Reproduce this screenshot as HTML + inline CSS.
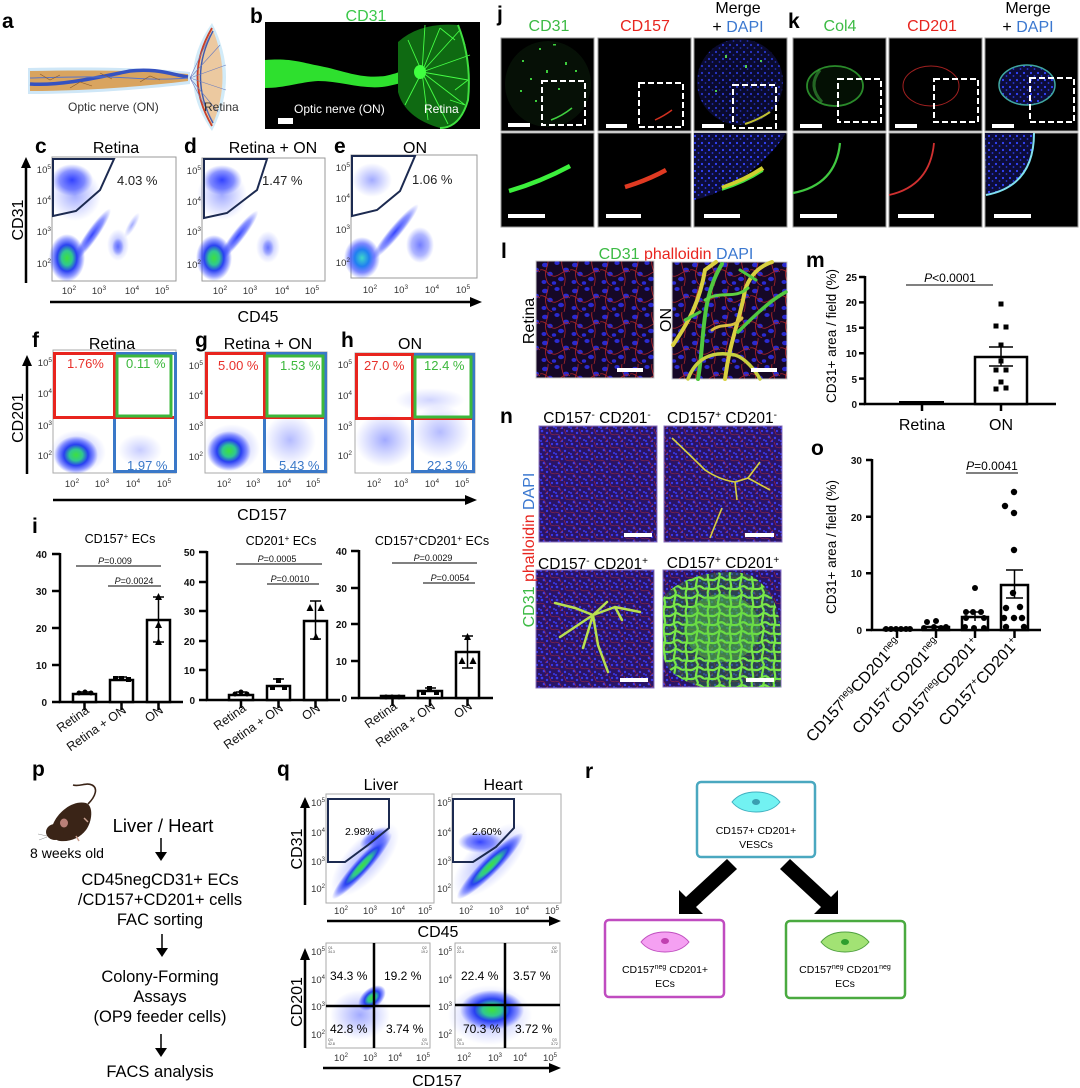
<!DOCTYPE html>
<html><head><meta charset="utf-8">
<style>
html,body{margin:0;padding:0;background:#fff;}
svg{display:block;font-family:"Liberation Sans",Arial,sans-serif;}
.lb{font-weight:bold;font-size:21px;fill:#000;}
.tk{font-size:9.5px;fill:#333;}
.bt{font-size:10px;font-weight:bold;fill:#111;}
</style></head><body>
<svg width="1080" height="1088" viewBox="0 0 1080 1088" xmlns="http://www.w3.org/2000/svg">
<defs>
<radialGradient id="gb"><stop offset="0" stop-color="#1f30ff" stop-opacity=".9"/><stop offset=".6" stop-color="#3040ff" stop-opacity=".55"/><stop offset="1" stop-color="#4455ff" stop-opacity="0"/></radialGradient>
<radialGradient id="gc"><stop offset="0" stop-color="#3ee03e"/><stop offset=".3" stop-color="#30c890"/><stop offset=".55" stop-color="#1f38f0" stop-opacity=".95"/><stop offset=".8" stop-color="#2a3cff" stop-opacity=".5"/><stop offset="1" stop-color="#3344ff" stop-opacity="0"/></radialGradient>
<radialGradient id="gcy"><stop offset="0" stop-color="#40d8c8"/><stop offset=".4" stop-color="#2080f0"/><stop offset=".7" stop-color="#2a3cff" stop-opacity=".6"/><stop offset="1" stop-color="#3344ff" stop-opacity="0"/></radialGradient>
<radialGradient id="gs"><stop offset="0" stop-color="#4455ff" stop-opacity=".5"/><stop offset="1" stop-color="#5566ff" stop-opacity="0"/></radialGradient>
<pattern id="pl" width="30" height="26" patternUnits="userSpaceOnUse">
<rect width="30" height="26" fill="#160826"/>
<g fill="#2a2ad0">
<ellipse cx="5" cy="5" rx="3" ry="2.3"/><ellipse cx="17" cy="3" rx="2.6" ry="2"/><ellipse cx="26" cy="10" rx="3" ry="2.4"/><ellipse cx="10" cy="14" rx="2.8" ry="2.2"/><ellipse cx="21" cy="19" rx="3" ry="2.2"/><ellipse cx="4" cy="22" rx="2.5" ry="2"/><ellipse cx="14" cy="23" rx="2.2" ry="1.8"/>
</g>
<path d="M0,10 C6,8 10,18 16,16 S26,8 30,12 M8,0 C9,6 4,10 6,18 S10,24 12,26 M22,0 C20,8 28,14 24,26" stroke="#b02428" stroke-width=".8" fill="none"/>
</pattern>
<pattern id="pn" width="15" height="13" patternUnits="userSpaceOnUse">
<rect width="15" height="13" fill="#2a1466"/>
<g fill="#3a3aee">
<circle cx="2" cy="2" r="1.3"/><circle cx="7" cy="4" r="1.2"/><circle cx="12" cy="2" r="1.1"/><circle cx="4" cy="8" r="1.3"/><circle cx="10" cy="9" r="1.2"/><circle cx="14" cy="11" r="1"/><circle cx="1" cy="12" r="1"/><circle cx="7" cy="12" r="1.1"/>
</g>
<path d="M0,5 L4,6 L6,10 M9,0 L11,5 L15,6 M5,13 L8,10" stroke="#a8283c" stroke-width=".6" fill="none"/>
</pattern>
<pattern id="pd" width="7" height="7" patternUnits="userSpaceOnUse">
<rect width="7" height="7" fill="#0c0c3a"/>
<circle cx="2" cy="3" r="1.1" fill="#3344ff"/>
<circle cx="5.5" cy="6" r=".9" fill="#2a3ae0"/>
</pattern>
<pattern id="mesh" width="22" height="18" patternUnits="userSpaceOnUse">
<rect width="22" height="18" fill="#2f7a3a" fill-opacity=".45"/>
<path d="M0,4 C5,2 8,6 12,3 S18,1 22,4 M0,13 C4,11 9,15 13,12 S19,10 22,13 M4,0 C3,4 6,8 5,12 S3,16 4,18 M15,0 C16,5 13,8 14,12 S17,16 15,18" stroke="#78e848" stroke-width="2.2" fill="none"/>
</pattern>
</defs>

<!-- ===== a ===== -->
<text class="lb" x="2" y="28">a</text>
<path d="M28,68 C80,67 140,67 190,72 L190,84 C140,90 80,94 28,94 Z" fill="#cfe7f7"/>
<path d="M30,71 C80,70 140,70 188,74 L188,81 C140,87 80,91 30,91 Z" fill="#d9a45f"/>
<path d="M30,84 C60,86 95,78 130,71 C155,68 170,74 188,77" stroke="#3552c0" stroke-width="3.5" fill="none"/>
<path d="M30,78 C70,77 100,76 130,78 C160,80 175,79 188,78" stroke="#5874c8" stroke-width="1" fill="none"/>
<path d="M40,74 L50,80 L60,75 M70,88 L80,82 L92,86 M100,73 L112,79 M140,82 L150,76 L160,80" stroke="#8a5a2a" stroke-width=".6" fill="none"/>
<path d="M212,23 Q174,77 212,131 Q240,77 212,23 Z" fill="#d2ebf8"/>
<path d="M212,28 Q182,77 212,126 Q233,77 212,28 Z" fill="#ecc9a0"/>
<path d="M212,28 Q183,77 212,126" stroke="#c8402a" stroke-width="1.8" fill="none"/>
<path d="M213,31 Q188,77 213,123" stroke="#3e5cb0" stroke-width="1.4" fill="none"/>
<path d="M190,78 L220,45 M190,78 L226,65 M190,78 L226,90 M190,78 L218,112 M190,78 L210,35 M190,78 L212,120" stroke="#6a7cc0" stroke-width=".6" fill="none"/>
<text x="68" y="111" font-size="12" fill="#333">Optic nerve (ON)</text>
<text x="204" y="111" font-size="12" fill="#333">Retina</text>

<!-- ===== b ===== -->
<text class="lb" x="250" y="23">b</text>
<text x="366" y="21" font-size="16" fill="#3cc84a" text-anchor="middle">CD31</text>
<rect x="265" y="22" width="215" height="107" fill="#000"/>
<path d="M265,60 C290,58 300,62 320,66 C345,71 360,79 385,76 C400,73 410,67 422,66 L424,79 C410,79 398,85 382,87 C360,89 340,81 318,81 C300,82 285,88 265,88 Z" fill="#2ee02e"/>
<path d="M398,42 Q420,22 458,25 Q472,60 468,100 Q460,128 440,128 Q405,118 398,92 Z" fill="#0f6a12"/>
<path d="M422,72 L440,28 M422,72 L460,30 M422,72 L470,55 M422,72 L468,80 M422,72 L465,105 M422,72 L448,124 M422,72 L428,120 M422,72 L405,105 M422,72 L408,40 M422,72 L425,25 M440,28 L455,40 M460,30 L465,45 M468,80 L455,90 M465,105 L450,100" stroke="#45ff45" stroke-width=".9" fill="none"/>
<path d="M458,25 Q472,60 468,100 Q460,128 440,128" stroke="#40e040" stroke-width="2" fill="none"/>
<ellipse cx="420" cy="72" rx="6" ry="7" fill="#40ff40"/>
<text x="294" y="113" font-size="12" fill="#fff">Optic nerve (ON)</text>
<text x="424" y="113" font-size="12" fill="#fff">Retina</text>
<rect x="278" y="118" width="15" height="6" fill="#fff"/>

<!-- ===== c d e ===== -->
<text class="lb" x="35" y="153">c</text>
<text class="lb" x="184" y="153">d</text>
<text class="lb" x="334" y="153">e</text>
<text x="116" y="153" font-size="16" text-anchor="middle">Retina</text>
<text x="273" y="153" font-size="16" text-anchor="middle">Retina + ON</text>
<text x="415" y="153" font-size="16" text-anchor="middle">ON</text>

<rect x="52" y="157" width="124" height="124" fill="#fff" stroke="#999"/>
<ellipse cx="75" cy="195" rx="26" ry="26" fill="url(#gs)"/>
<ellipse cx="72" cy="180" rx="21" ry="16" fill="url(#gb)"/>
<ellipse cx="92" cy="235" rx="32" ry="6" transform="rotate(-55 92 235)" fill="url(#gb)"/>
<ellipse cx="67" cy="258" rx="18" ry="24" fill="url(#gc)"/>
<ellipse cx="118" cy="245" rx="11" ry="16" fill="url(#gs)"/>
<ellipse cx="118" cy="247" rx="6" ry="9" fill="url(#gb)" opacity=".6"/>
<ellipse cx="132" cy="225" rx="14" ry="4" transform="rotate(-60 132 225)" fill="url(#gs)"/>
<polygon points="53,159 114,159 100,190 76,211 53,216" fill="none" stroke="#1c2a50" stroke-width="2"/>
<text x="117" y="185" font-size="13" fill="#222">4.03 %</text>

<rect x="202" y="158" width="123" height="123" fill="#fff" stroke="#999"/>
<ellipse cx="222" cy="195" rx="25" ry="25" fill="url(#gs)"/>
<ellipse cx="222" cy="180" rx="20" ry="15" fill="url(#gb)"/>
<ellipse cx="238" cy="236" rx="32" ry="6" transform="rotate(-52 238 236)" fill="url(#gb)"/>
<ellipse cx="214" cy="258" rx="18" ry="23" fill="url(#gc)"/>
<ellipse cx="268" cy="247" rx="12" ry="16" fill="url(#gs)"/>
<ellipse cx="268" cy="248" rx="6" ry="9" fill="url(#gb)" opacity=".5"/>
<polygon points="204,159 267,159 257,190 227,213 204,218" fill="none" stroke="#1c2a50" stroke-width="2"/>
<text x="262" y="185" font-size="13" fill="#222">1.47 %</text>

<rect x="351" y="155" width="126" height="123" fill="#fff" stroke="#999"/>
<ellipse cx="372" cy="180" rx="20" ry="17" fill="url(#gs)"/>
<ellipse cx="395" cy="232" rx="36" ry="6" transform="rotate(-50 395 232)" fill="url(#gb)"/>
<ellipse cx="362" cy="258" rx="18" ry="21" fill="url(#gcy)"/>
<ellipse cx="420" cy="245" rx="14" ry="18" fill="url(#gb)" opacity=".7"/>
<polygon points="352,156 415,156 400,191 377,210 352,216" fill="none" stroke="#1c2a50" stroke-width="2"/>
<text x="412" y="184" font-size="13" fill="#222">1.06 %</text>

<g class="tk" text-anchor="end">
<text x="51" y="173">10<tspan dy="-4" font-size="6.5">5</tspan></text>
<text x="51" y="204">10<tspan dy="-4" font-size="6.5">4</tspan></text>
<text x="51" y="235">10<tspan dy="-4" font-size="6.5">3</tspan></text>
<text x="51" y="267">10<tspan dy="-4" font-size="6.5">2</tspan></text>
<text x="201" y="174">10<tspan dy="-4" font-size="6.5">5</tspan></text>
<text x="201" y="205">10<tspan dy="-4" font-size="6.5">4</tspan></text>
<text x="201" y="235">10<tspan dy="-4" font-size="6.5">3</tspan></text>
<text x="201" y="268">10<tspan dy="-4" font-size="6.5">2</tspan></text>
<text x="350" y="171">10<tspan dy="-4" font-size="6.5">5</tspan></text>
<text x="350" y="202">10<tspan dy="-4" font-size="6.5">4</tspan></text>
<text x="350" y="233">10<tspan dy="-4" font-size="6.5">3</tspan></text>
<text x="350" y="266">10<tspan dy="-4" font-size="6.5">2</tspan></text>
</g>
<g class="tk" text-anchor="middle">
<text x="69" y="294">10<tspan dy="-4" font-size="6.5">2</tspan></text>
<text x="99" y="294">10<tspan dy="-4" font-size="6.5">3</tspan></text>
<text x="132" y="294">10<tspan dy="-4" font-size="6.5">4</tspan></text>
<text x="162" y="294">10<tspan dy="-4" font-size="6.5">5</tspan></text>
<text x="220" y="294">10<tspan dy="-4" font-size="6.5">2</tspan></text>
<text x="250" y="294">10<tspan dy="-4" font-size="6.5">3</tspan></text>
<text x="282" y="294">10<tspan dy="-4" font-size="6.5">4</tspan></text>
<text x="312" y="294">10<tspan dy="-4" font-size="6.5">5</tspan></text>
<text x="370" y="293">10<tspan dy="-4" font-size="6.5">2</tspan></text>
<text x="401" y="293">10<tspan dy="-4" font-size="6.5">3</tspan></text>
<text x="432" y="293">10<tspan dy="-4" font-size="6.5">4</tspan></text>
<text x="463" y="293">10<tspan dy="-4" font-size="6.5">5</tspan></text>
</g>
<text transform="translate(23,220) rotate(-90)" text-anchor="middle" font-size="16">CD31</text>
<line x1="26" y1="283" x2="26" y2="166" stroke="#000" stroke-width="2.5"/>
<polygon points="21,168 31,168 26,157" fill="#000"/>
<line x1="50" y1="302" x2="472" y2="302" stroke="#000" stroke-width="2.5"/>
<polygon points="470,297 470,307 482,302" fill="#000"/>
<text x="258" y="322" font-size="16" text-anchor="middle">CD45</text>

<!-- ===== f g h ===== -->
<text class="lb" x="32" y="347">f</text>
<text class="lb" x="195" y="347">g</text>
<text class="lb" x="341" y="347">h</text>
<text x="112" y="349" font-size="16" text-anchor="middle">Retina</text>
<text x="268" y="349" font-size="16" text-anchor="middle">Retina + ON</text>
<text x="410" y="349" font-size="16" text-anchor="middle">ON</text>

<rect x="53" y="350" width="123" height="123" fill="#fff" stroke="#aaa"/>
<ellipse cx="140" cy="450" rx="22" ry="16" fill="url(#gs)" opacity=".6"/>
<ellipse cx="78" cy="452" rx="28" ry="22" fill="url(#gs)"/>
<ellipse cx="76" cy="455" rx="22" ry="19" fill="url(#gc)"/>
<rect x="54.5" y="353.5" width="121" height="64" fill="none" stroke="#e8241e" stroke-width="3"/>
<rect x="114.5" y="353.5" width="61" height="118" fill="none" stroke="#3a78c8" stroke-width="3"/>
<line x1="114.5" y1="352" x2="114.5" y2="419" stroke="#e8241e" stroke-width="3"/>
<rect x="117" y="356" width="54" height="60" fill="none" stroke="#3cb83c" stroke-width="3"/>
<text x="67" y="368" font-size="13" fill="#e8302a">1.76%</text>
<text x="126" y="368" font-size="13" fill="#3cb83c">0.11 %</text>
<text x="127" y="470" font-size="13" fill="#3a78c8">1.97 %</text>

<rect x="205" y="352" width="122" height="121" fill="#fff" stroke="#aaa"/>
<ellipse cx="290" cy="440" rx="26" ry="26" fill="url(#gs)" opacity=".8"/>
<ellipse cx="232" cy="448" rx="28" ry="24" fill="url(#gs)"/>
<ellipse cx="229" cy="451" rx="22" ry="20" fill="url(#gc)"/>
<rect x="206.5" y="353.5" width="119" height="64" fill="none" stroke="#e8241e" stroke-width="3"/>
<rect x="264.5" y="353.5" width="61" height="118" fill="none" stroke="#3a78c8" stroke-width="3"/>
<line x1="264.5" y1="352" x2="264.5" y2="419" stroke="#e8241e" stroke-width="3"/>
<rect x="267" y="356" width="56" height="60" fill="none" stroke="#3cb83c" stroke-width="3"/>
<text x="218" y="370" font-size="13" fill="#e8302a">5.00 %</text>
<text x="280" y="370" font-size="13" fill="#3cb83c">1.53 %</text>
<text x="279" y="470" font-size="13" fill="#3a78c8">5.43 %</text>

<rect x="355" y="353" width="120" height="120" fill="#fff" stroke="#aaa"/>
<ellipse cx="385" cy="440" rx="30" ry="27" fill="url(#gs)"/>
<ellipse cx="440" cy="432" rx="30" ry="27" fill="url(#gs)" opacity=".8"/>
<ellipse cx="430" cy="400" rx="35" ry="12" fill="url(#gs)" opacity=".5"/>
<rect x="356.5" y="354.5" width="117" height="64" fill="none" stroke="#e8241e" stroke-width="3"/>
<rect x="412.5" y="354.5" width="61" height="117" fill="none" stroke="#3a78c8" stroke-width="3"/>
<line x1="412.5" y1="353" x2="412.5" y2="420" stroke="#e8241e" stroke-width="3"/>
<rect x="415" y="357" width="56" height="60" fill="none" stroke="#3cb83c" stroke-width="3"/>
<text x="364" y="370" font-size="13" fill="#e8302a">27.0 %</text>
<text x="424" y="370" font-size="13" fill="#3cb83c">12.4 %</text>
<text x="427" y="470" font-size="13" fill="#3a78c8">22.3 %</text>

<g class="tk" text-anchor="end">
<text x="52" y="366">10<tspan dy="-4" font-size="6.5">5</tspan></text>
<text x="52" y="397">10<tspan dy="-4" font-size="6.5">4</tspan></text>
<text x="52" y="429">10<tspan dy="-4" font-size="6.5">3</tspan></text>
<text x="52" y="459">10<tspan dy="-4" font-size="6.5">2</tspan></text>
<text x="203" y="369">10<tspan dy="-4" font-size="6.5">5</tspan></text>
<text x="203" y="399">10<tspan dy="-4" font-size="6.5">4</tspan></text>
<text x="203" y="430">10<tspan dy="-4" font-size="6.5">3</tspan></text>
<text x="203" y="460">10<tspan dy="-4" font-size="6.5">2</tspan></text>
<text x="352" y="368">10<tspan dy="-4" font-size="6.5">5</tspan></text>
<text x="352" y="399">10<tspan dy="-4" font-size="6.5">4</tspan></text>
<text x="352" y="430">10<tspan dy="-4" font-size="6.5">3</tspan></text>
<text x="352" y="459">10<tspan dy="-4" font-size="6.5">2</tspan></text>
</g>
<g class="tk" text-anchor="middle">
<text x="72" y="487">10<tspan dy="-4" font-size="6.5">2</tspan></text>
<text x="102" y="487">10<tspan dy="-4" font-size="6.5">3</tspan></text>
<text x="133" y="487">10<tspan dy="-4" font-size="6.5">4</tspan></text>
<text x="164" y="487">10<tspan dy="-4" font-size="6.5">5</tspan></text>
<text x="224" y="487">10<tspan dy="-4" font-size="6.5">2</tspan></text>
<text x="253" y="487">10<tspan dy="-4" font-size="6.5">3</tspan></text>
<text x="284" y="487">10<tspan dy="-4" font-size="6.5">4</tspan></text>
<text x="313" y="487">10<tspan dy="-4" font-size="6.5">5</tspan></text>
<text x="374" y="487">10<tspan dy="-4" font-size="6.5">2</tspan></text>
<text x="401" y="487">10<tspan dy="-4" font-size="6.5">3</tspan></text>
<text x="432" y="487">10<tspan dy="-4" font-size="6.5">4</tspan></text>
<text x="462" y="487">10<tspan dy="-4" font-size="6.5">5</tspan></text>
</g>
<text transform="translate(23,418) rotate(-90)" text-anchor="middle" font-size="16">CD201</text>
<line x1="27" y1="474" x2="27" y2="364" stroke="#000" stroke-width="2.5"/>
<polygon points="22,366 32,366 27,355" fill="#000"/>
<line x1="53" y1="500" x2="467" y2="500" stroke="#000" stroke-width="2.5"/>
<polygon points="465,495 465,505 477,500" fill="#000"/>
<text x="262" y="520" font-size="16" text-anchor="middle">CD157</text>

<!-- ===== i ===== -->
<text class="lb" x="32" y="533">i</text>
<text x="120" y="543" font-size="12.5" text-anchor="middle">CD157<tspan dy="-4" font-size="8">+</tspan><tspan dy="4"> ECs</tspan></text>
<text x="281" y="545" font-size="12.5" text-anchor="middle">CD201<tspan dy="-4" font-size="8">+</tspan><tspan dy="4"> ECs</tspan></text>
<text x="432" y="545" font-size="12.5" text-anchor="middle">CD157<tspan dy="-4" font-size="8">+</tspan><tspan dy="4">CD201</tspan><tspan dy="-4" font-size="8">+</tspan><tspan dy="4"> ECs</tspan></text>

<g stroke="#000" stroke-width="2.5" fill="none">
<path d="M60,553 L60,702 L183,702"/>
<path d="M52,554 H60 M52,591 H60 M52,628 H60 M52,665 H60 M52,702 H60"/>
<rect x="73" y="694" width="23" height="8" fill="#fff"/>
<rect x="110" y="680" width="23" height="22" fill="#fff"/>
<rect x="147" y="620" width="23" height="82" fill="#fff"/>
<path d="M84.5,702 V710 M121.5,702 V710 M158.5,702 V710"/>
<path d="M158.5,597 V642 M153,597 H164 M153,642 H164 M116,677 H127 M79,692 H90" stroke-width="1.5"/>
<path d="M207,551 L207,700 L340,700"/>
<path d="M199,552 H207 M199,582 H207 M199,611 H207 M199,641 H207 M199,670 H207 M199,700 H207"/>
<rect x="229" y="695" width="24" height="5" fill="#fff"/>
<rect x="267" y="686" width="23" height="14" fill="#fff"/>
<rect x="304" y="621" width="23" height="79" fill="#fff"/>
<path d="M241,700 V708 M278.5,700 V708 M315.5,700 V708"/>
<path d="M315.5,601 V639 M310,601 H321 M310,639 H321 M273,679 H284 M236,692 H247" stroke-width="1.5"/>
<path d="M359,550 L359,698 L493,698"/>
<path d="M351,551 H359 M351,588 H359 M351,624 H359 M351,661 H359 M351,698 H359"/>
<rect x="381" y="696" width="23" height="2" fill="#fff"/>
<rect x="418" y="691" width="24" height="7" fill="#fff"/>
<rect x="456" y="652" width="23" height="46" fill="#fff"/>
<path d="M392.5,698 V706 M430,698 V706 M467.5,698 V706"/>
<path d="M467.5,636 V668 M462,636 H473 M462,668 H473 M425,688 H436" stroke-width="1.5"/>
</g>
<g fill="#000">
<circle cx="79" cy="693" r="2.5"/><circle cx="85" cy="692" r="2.5"/><circle cx="91" cy="693" r="2.5"/>
<rect x="113" y="676" width="5" height="5"/><rect x="119" y="676" width="5" height="5"/><rect x="126" y="677" width="5" height="5"/>
<polygon points="158.5,593 155,600 162,600"/><polygon points="158.5,621 155,628 162,628"/><polygon points="158.5,638 155,645 162,645"/>
<circle cx="235" cy="694" r="2.5"/><circle cx="241" cy="692" r="2.5"/><circle cx="247" cy="694" r="2.5"/>
<rect x="276" y="678" width="5" height="5"/><rect x="270" y="685" width="5" height="5"/><rect x="282" y="685" width="5" height="5"/>
<polygon points="310,604 306.5,611 313.5,611"/><polygon points="321,604 317.5,611 324.5,611"/><polygon points="316,633 312.5,640 319.5,640"/>
<circle cx="386" cy="697" r="2.5"/><circle cx="392" cy="697" r="2.5"/><circle cx="399" cy="697" r="2.5"/>
<rect x="427" y="686" width="5" height="5"/><rect x="421" y="690" width="5" height="5"/><rect x="434" y="690" width="5" height="5"/>
<polygon points="467.5,633 464,640 471,640"/><polygon points="462,657 458.5,664 465.5,664"/><polygon points="473,657 469.5,664 476.5,664"/>
</g>
<g class="bt" text-anchor="end">
<text x="47" y="558">40</text><text x="47" y="595">30</text><text x="47" y="632">20</text><text x="47" y="669">10</text><text x="47" y="706">0</text>
<text x="195" y="556">50</text><text x="195" y="586">40</text><text x="195" y="615">30</text><text x="195" y="645">20</text><text x="195" y="674">10</text><text x="195" y="704">0</text>
<text x="347" y="555">40</text><text x="347" y="592">30</text><text x="347" y="628">20</text><text x="347" y="665">10</text><text x="347" y="702">0</text>
</g>
<g stroke="#000" stroke-width="1">
<line x1="76" y1="566" x2="161" y2="566"/><line x1="108" y1="586" x2="161" y2="586"/>
<line x1="236" y1="564" x2="322" y2="564"/><line x1="267" y1="584" x2="319" y2="584"/>
<line x1="392" y1="563" x2="477" y2="563"/><line x1="423" y1="583" x2="475" y2="583"/>
</g>
<g font-size="9" text-anchor="middle" fill="#111">
<text x="115" y="564"><tspan font-style="italic">P</tspan>=0.009</text>
<text x="134" y="584"><tspan font-style="italic">P</tspan>=0.0024</text>
<text x="277" y="562"><tspan font-style="italic">P</tspan>=0.0005</text>
<text x="290" y="582"><tspan font-style="italic">P</tspan>=0.0010</text>
<text x="433" y="561"><tspan font-style="italic">P</tspan>=0.0029</text>
<text x="450" y="581"><tspan font-style="italic">P</tspan>=0.0054</text>
</g>
<g font-size="12.5" text-anchor="end" fill="#111">
<text transform="translate(90,712) rotate(-35)">Retina</text>
<text transform="translate(127,712) rotate(-35)">Retina + ON</text>
<text transform="translate(164,712) rotate(-35)">ON</text>
<text transform="translate(247,710) rotate(-35)">Retina</text>
<text transform="translate(284,710) rotate(-35)">Retina + ON</text>
<text transform="translate(321,710) rotate(-35)">ON</text>
<text transform="translate(398,708) rotate(-35)">Retina</text>
<text transform="translate(436,708) rotate(-35)">Retina + ON</text>
<text transform="translate(473,708) rotate(-35)">ON</text>
</g>

<!-- ===== j k ===== -->
<text class="lb" x="497" y="21">j</text>
<text class="lb" x="788" y="28">k</text>
<text x="549" y="31" font-size="16" fill="#3dbb45" text-anchor="middle">CD31</text>
<text x="645" y="31" font-size="16" fill="#e8251f" text-anchor="middle">CD157</text>
<text x="738" y="13" font-size="16" text-anchor="middle">Merge</text>
<text x="738" y="32" font-size="16" text-anchor="middle">+ <tspan fill="#3b78d0">DAPI</tspan></text>
<text x="840" y="31" font-size="16" fill="#3dbb45" text-anchor="middle">Col4</text>
<text x="932" y="31" font-size="16" fill="#e8251f" text-anchor="middle">CD201</text>
<text x="1028" y="13" font-size="16" text-anchor="middle">Merge</text>
<text x="1028" y="32" font-size="16" text-anchor="middle">+ <tspan fill="#3b78d0">DAPI</tspan></text>

<g stroke="#999" stroke-width="1">
<rect x="501" y="38" width="93" height="93" fill="#000"/>
<rect x="598" y="38" width="93" height="93" fill="#000"/>
<rect x="694" y="38" width="93" height="93" fill="#000"/>
<rect x="793" y="38" width="93" height="93" fill="#000"/>
<rect x="889" y="38" width="93" height="93" fill="#000"/>
<rect x="985" y="38" width="93" height="93" fill="#000"/>
<rect x="501" y="133" width="93" height="94" fill="#000"/>
<rect x="598" y="133" width="93" height="94" fill="#000"/>
<rect x="694" y="133" width="93" height="94" fill="#000"/>
<rect x="793" y="133" width="93" height="94" fill="#000"/>
<rect x="889" y="133" width="93" height="94" fill="#000"/>
<rect x="985" y="133" width="93" height="94" fill="#000"/>
</g>
<circle cx="548" cy="84" r="43" fill="#061006"/>
<g fill="#3ccc3c">
<rect x="539" y="48" width="2" height="2"/><rect x="553" y="44" width="3" height="1.5"/><rect x="522" y="60" width="2" height="2"/><rect x="565" y="62" width="2" height="3"/><rect x="530" y="78" width="2" height="2"/><rect x="575" y="70" width="2" height="2"/><rect x="546" y="70" width="2" height="3"/><rect x="520" y="90" width="2" height="2"/><rect x="558" y="88" width="2" height="2"/><rect x="535" y="100" width="2" height="2"/>
</g>
<circle cx="740" cy="82" r="43" fill="url(#pd)" opacity=".8"/>
<g fill="#50d050">
<rect x="725" y="55" width="2" height="3"/><rect x="745" y="65" width="2" height="3"/><rect x="715" y="90" width="2" height="2"/><rect x="760" y="60" width="2" height="2"/>
</g>
<path d="M551,120 Q562,116 572,108" stroke="#40d040" stroke-width="1.5" fill="none"/>
<path d="M655,120 Q664,116 672,110" stroke="#d03020" stroke-width="1.5" fill="none"/>
<path d="M745,124 Q758,120 770,112" stroke="#c0c030" stroke-width="2" fill="none"/>
<ellipse cx="835" cy="86" rx="28" ry="20" fill="#041004" stroke="#2a8a2a" stroke-width="1.8"/>
<path d="M820,70 Q807,86 822,102" stroke="#3aa03a" stroke-width="3" fill="none" opacity=".6"/>
<ellipse cx="931" cy="86" rx="28" ry="20" fill="none" stroke="#a02020" stroke-width="1"/>
<ellipse cx="1027" cy="85" rx="28" ry="20" fill="url(#pd)" stroke="#40a8a0" stroke-width="1.5"/>
<g fill="none" stroke="#fff" stroke-width="2" stroke-dasharray="6 3">
<rect x="542" y="81" width="43" height="44"/>
<rect x="639" y="83" width="44" height="44"/>
<rect x="733" y="85" width="43" height="43"/>
<rect x="838" y="79" width="43" height="43"/>
<rect x="934" y="79" width="44" height="43"/>
<rect x="1030" y="78" width="44" height="44"/>
</g>
<path d="M509,191 Q540,182 570,166" stroke="#3cf03c" stroke-width="4.5" fill="none"/>
<path d="M625,187 Q648,180 666,170" stroke="#e03a22" stroke-width="4.5" fill="none"/>
<path d="M694,133 L786,133 Q770,160 730,186 Q712,196 694,200 Z" fill="url(#pd)"/>
<path d="M722,188 Q745,180 763,168" stroke="#d0d030" stroke-width="4.5" fill="none"/>
<path d="M722,190 Q745,183 763,171" stroke="#40e040" stroke-width="1.5" fill="none"/>
<path d="M793,193 Q836,185 840,143" stroke="#40c840" stroke-width="2.2" fill="none"/>
<path d="M889,195 Q930,186 934,143" stroke="#d03030" stroke-width="1.8" fill="none"/>
<path d="M985,133 L1034,133 Q1034,186 986,195 Z" fill="url(#pd)"/>
<path d="M1034,133 Q1034,186 986,195" stroke="#80e0f0" stroke-width="2" fill="none"/>
<g fill="#fff">
<rect x="508" y="123" width="22" height="4"/><rect x="606" y="124" width="21" height="4"/><rect x="702" y="124" width="22" height="4"/><rect x="800" y="124" width="22" height="4"/><rect x="895" y="124" width="22" height="4"/><rect x="992" y="124" width="22" height="4"/>
<rect x="508" y="214" width="37" height="4"/><rect x="606" y="214" width="35" height="4"/><rect x="704" y="214" width="36" height="4"/><rect x="800" y="214" width="37" height="4"/><rect x="898" y="214" width="36" height="4"/><rect x="994" y="214" width="37" height="4"/>
</g>

<!-- ===== l ===== -->
<text class="lb" x="501" y="258">l</text>
<text x="676" y="259" font-size="16" text-anchor="middle"><tspan fill="#3dbb45">CD31</tspan> <tspan fill="#e8251f">phalloidin</tspan> <tspan fill="#3b78d0">DAPI</tspan></text>
<rect x="536" y="261" width="118" height="117" fill="url(#pl)" stroke="#ccc"/>
<rect x="672" y="262" width="115" height="117" fill="url(#pl)" stroke="#ccc"/>
<g fill="none" stroke-linecap="round">
<path d="M673,345 C690,320 700,300 705,270 L716,262" stroke="#d8d040" stroke-width="4"/>
<path d="M698,379 C705,340 700,300 722,264" stroke="#50c840" stroke-width="4"/>
<path d="M725,379 C730,340 740,320 745,290 C750,275 760,266 772,262" stroke="#d8d040" stroke-width="4"/>
<path d="M738,332 C750,320 770,300 786,292" stroke="#50c840" stroke-width="3.5"/>
<path d="M688,379 C695,360 710,350 735,355 C745,358 755,370 760,379" stroke="#c8d040" stroke-width="3.5"/>
<path d="M705,300 C720,290 735,300 748,288" stroke="#60d040" stroke-width="3"/>
<path d="M712,330 C722,322 732,330 742,318" stroke="#d8c040" stroke-width="3"/>
<path d="M685,320 L700,312 M740,270 L756,280" stroke="#50c840" stroke-width="3"/>
</g>
<rect x="617" y="368" width="26" height="4" fill="#fff"/>
<rect x="751" y="368" width="26" height="4" fill="#fff"/>
<text transform="translate(534,321) rotate(-90)" text-anchor="middle" font-size="16">Retina</text>
<text transform="translate(671,320) rotate(-90)" text-anchor="middle" font-size="16">ON</text>

<!-- ===== n ===== -->
<text class="lb" x="500" y="423">n</text>
<g font-size="15.5" text-anchor="middle">
<text x="597" y="423">CD157<tspan dy="-5" font-size="10">-</tspan><tspan dy="5"> CD201</tspan><tspan dy="-5" font-size="10">-</tspan></text>
<text x="722" y="423">CD157<tspan dy="-5" font-size="10">+</tspan><tspan dy="5"> CD201</tspan><tspan dy="-5" font-size="10">-</tspan></text>
<text x="593" y="569">CD157<tspan dy="-5" font-size="10">-</tspan><tspan dy="5"> CD201</tspan><tspan dy="-5" font-size="10">+</tspan></text>
<text x="723" y="568">CD157<tspan dy="-5" font-size="10">+</tspan><tspan dy="5"> CD201</tspan><tspan dy="-5" font-size="10">+</tspan></text>
</g>
<rect x="539" y="426" width="118" height="116" fill="url(#pn)" stroke="#8870c0"/>
<rect x="664" y="426" width="118" height="116" fill="url(#pn)" stroke="#8870c0"/>
<rect x="536" y="570" width="118" height="118" fill="url(#pn)" stroke="#8870c0"/>
<rect x="663" y="570" width="118" height="117" fill="url(#pn)" stroke="#8870c0"/>
<path d="M672,438 Q690,455 705,470 Q720,480 735,482 L748,478 L760,462 M735,482 L737,500 M748,478 L770,490 M722,508 Q715,525 710,538" stroke="#d8d040" stroke-width="1.6" fill="none"/>
<g stroke="#b8e050" stroke-width="2.5" fill="none" stroke-linecap="round">
<path d="M593,615 L575,608 L555,603 M593,615 L578,625 L560,637 M593,615 L598,645 L608,672 M593,615 L615,607 L640,612 M593,615 L607,602 M593,615 L583,648 M615,607 L622,620"/>
</g>
<path d="M663,598 C678,576 720,568 748,574 C768,584 781,605 781,640 L781,687 L702,687 C684,682 663,672 663,652 Z" fill="url(#mesh)"/>
<ellipse cx="722" cy="628" rx="38" ry="34" fill="#58d040" opacity=".45"/>
<g fill="#fff">
<rect x="624" y="533" width="28" height="4"/><rect x="745" y="533" width="29" height="4"/><rect x="620" y="678" width="28" height="4"/><rect x="746" y="678" width="28" height="4"/>
</g>
<text transform="translate(534,550) rotate(-90)" text-anchor="middle" font-size="16"><tspan fill="#3dbb45">CD31</tspan> <tspan fill="#e8251f">phalloidin</tspan> <tspan fill="#3b78d0">DAPI</tspan></text>

<!-- ===== m ===== -->
<text class="lb" x="806" y="267">m</text>
<text transform="translate(836,336) rotate(-90)" text-anchor="middle" font-size="13.5">CD31+ area / field (%)</text>
<g stroke="#000" stroke-width="2.5" fill="none">
<path d="M865,276 L865,404 L1056,404"/>
<path d="M859,277 H865 M859,302.4 H865 M859,327.8 H865 M859,353.2 H865 M859,378.6 H865 M859,404 H865"/>
<rect x="975" y="357" width="52" height="47" fill="#fff"/>
<path d="M922,404 V411 M1001,404 V411"/>
<path d="M1001,347 V366 M989,347 H1013 M989,366 H1013" stroke-width="1.5"/>
</g>
<g class="bt" font-size="11" text-anchor="end">
<text x="857" y="281">25</text><text x="857" y="306">20</text><text x="857" y="332">15</text><text x="857" y="357">10</text><text x="857" y="383">5</text><text x="857" y="408">0</text>
</g>
<g fill="#000">
<rect x="899" y="401" width="45" height="4"/>
<rect x="998.5" y="301.5" width="5" height="5"/><rect x="993.5" y="323.5" width="5" height="5"/><rect x="1003.5" y="324.5" width="5" height="5"/><rect x="998.5" y="342.5" width="5" height="5"/><rect x="998.5" y="358.5" width="5" height="5"/><rect x="993.5" y="367.5" width="5" height="5"/><rect x="1003.5" y="367.5" width="5" height="5"/><rect x="998.5" y="379.5" width="5" height="5"/><rect x="993.5" y="386.5" width="5" height="5"/><rect x="1003.5" y="385.5" width="5" height="5"/>
</g>
<line x1="906" y1="285" x2="993" y2="285" stroke="#000" stroke-width="1"/>
<text x="950" y="282" font-size="12" text-anchor="middle"><tspan font-style="italic">P</tspan>&lt;0.0001</text>
<text x="922" y="430" font-size="16" text-anchor="middle">Retina</text>
<text x="1001" y="430" font-size="16" text-anchor="middle">ON</text>

<!-- ===== o ===== -->
<text class="lb" x="811" y="455">o</text>
<text transform="translate(836,547) rotate(-90)" text-anchor="middle" font-size="13.5">CD31+ area / field (%)</text>
<g stroke="#000" stroke-width="2.5" fill="none">
<path d="M872,459 L872,630 L1041,630"/>
<path d="M866,460 H872 M866,516.7 H872 M866,573.3 H872 M866,630 H872"/>
<rect x="884" y="629" width="26" height="1" fill="#fff"/>
<rect x="923" y="627" width="26" height="3" fill="#fff"/>
<rect x="962" y="617" width="26" height="13" fill="#fff"/>
<rect x="1001" y="585" width="27" height="45" fill="#fff"/>
<path d="M897,630 V638 M936,630 V638 M975,630 V638 M1014.5,630 V638"/>
<path d="M1014.5,570 V598 M1006,570 H1023 M1006,598 H1023 M975,612 V621 M968,612 H982" stroke-width="1.5"/>
</g>
<g class="bt" font-size="11" text-anchor="end">
<text x="862" y="464">30</text><text x="862" y="521">20</text><text x="862" y="577">10</text><text x="862" y="634">0</text>
</g>
<g fill="#000">
<circle cx="886" cy="629" r="3"/><circle cx="891" cy="629" r="3"/><circle cx="896" cy="629" r="3"/><circle cx="901" cy="629" r="3"/><circle cx="906" cy="629" r="3"/><circle cx="910" cy="629" r="3"/>
<circle cx="927" cy="622" r="3"/><circle cx="936" cy="621" r="3"/><circle cx="934" cy="627" r="3"/><circle cx="924" cy="628" r="3"/><circle cx="941" cy="628" r="3"/><circle cx="946" cy="627" r="3"/>
<circle cx="975" cy="588" r="3"/><circle cx="966" cy="612" r="3"/><circle cx="973" cy="612" r="3"/><circle cx="981" cy="612" r="3"/><circle cx="966" cy="618" r="3"/><circle cx="984" cy="618" r="3"/><circle cx="965" cy="627" r="3"/><circle cx="974" cy="628" r="3"/><circle cx="984" cy="628" r="3"/>
<circle cx="1014" cy="492" r="3.2"/><circle cx="1005" cy="506" r="3.2"/><circle cx="1014" cy="513" r="3.2"/><circle cx="1014" cy="550" r="3.2"/><circle cx="1013" cy="593" r="3.2"/><circle cx="1006" cy="608" r="3.2"/><circle cx="1020" cy="607" r="3.2"/><circle cx="1004" cy="618" r="3.2"/><circle cx="1014" cy="618" r="3.2"/><circle cx="1022" cy="618" r="3.2"/><circle cx="1006" cy="627" r="3.2"/><circle cx="1024" cy="627" r="3.2"/>
</g>
<line x1="966" y1="473" x2="1018" y2="473" stroke="#000" stroke-width="1"/>
<text x="992" y="470" font-size="12" text-anchor="middle"><tspan font-style="italic">P</tspan>=0.0041</text>
<g font-size="16" text-anchor="end">
<text transform="translate(902,644) rotate(-48)">CD157<tspan dy="-6" font-size="10">neg</tspan><tspan dy="6">CD201</tspan><tspan dy="-6" font-size="10">neg</tspan></text>
<text transform="translate(941,644) rotate(-48)">CD157<tspan dy="-6" font-size="10">+</tspan><tspan dy="6">CD201</tspan><tspan dy="-6" font-size="10">neg</tspan></text>
<text transform="translate(980,644) rotate(-48)">CD157<tspan dy="-6" font-size="10">neg</tspan><tspan dy="6">CD201</tspan><tspan dy="-6" font-size="10">+</tspan></text>
<text transform="translate(1020,644) rotate(-48)">CD157<tspan dy="-6" font-size="10">+</tspan><tspan dy="6">CD201</tspan><tspan dy="-6" font-size="10">+</tspan></text>
</g>

<!-- ===== p ===== -->
<text class="lb" x="32" y="776">p</text>
<path d="M86,803 C94,806 92,822 86,830 C80,838 70,842 60,841 C52,840 50,830 54,822 C60,810 74,800 86,803 Z" fill="#3a2417"/>
<ellipse cx="55" cy="832" rx="9" ry="8" fill="#3a2417"/>
<path d="M47,836 L52,830 L54,838 Z" fill="#3a2417"/>
<ellipse cx="64" cy="823" rx="4" ry="4.5" fill="#b98078"/>
<path d="M88,804 C96,796 98,788 92,785 C86,782 80,787 73,785" stroke="#3a2417" stroke-width="1.6" fill="none"/>
<path d="M84,818 L88,822 M76,836 L79,841" stroke="#c9a090" stroke-width="1.5"/>
<path d="M47,836 L38,834 M47,837 L39,840" stroke="#888" stroke-width=".5"/>
<text x="67" y="858" font-size="14" text-anchor="middle">8 weeks old</text>
<text x="163" y="832" font-size="18.5" text-anchor="middle">Liver / Heart</text>
<g stroke="#000" stroke-width="1.5">
<line x1="161" y1="838" x2="161" y2="853"/><line x1="162" y1="934" x2="162" y2="949"/><line x1="161" y1="1034" x2="161" y2="1049"/>
</g>
<g fill="#000">
<polygon points="155,852 167,852 161,861"/><polygon points="156,948 168,948 162,957"/><polygon points="155,1048 167,1048 161,1057"/>
</g>
<g font-size="16.5" text-anchor="middle">
<text x="160" y="885">CD45negCD31+ ECs</text>
<text x="160" y="905">/CD157+CD201+ cells</text>
<text x="160" y="925">FAC sorting</text>
<text x="160" y="982">Colony-Forming</text>
<text x="160" y="1002">Assays</text>
<text x="160" y="1022">(OP9 feeder cells)</text>
<text x="160" y="1077">FACS analysis</text>
</g>

<!-- ===== q ===== -->
<text class="lb" x="277" y="776">q</text>
<text x="381" y="790" font-size="16" text-anchor="middle">Liver</text>
<text x="503" y="790" font-size="16" text-anchor="middle">Heart</text>
<rect x="326" y="794" width="108" height="109" fill="#fff" stroke="#aaa"/>
<rect x="452" y="794" width="109" height="109" fill="#fff" stroke="#aaa"/>
<ellipse cx="365" cy="860" rx="46" ry="20" transform="rotate(-48 365 860)" fill="url(#gs)"/>
<ellipse cx="375" cy="838" rx="17" ry="8" transform="rotate(-30 375 838)" fill="url(#gb)"/>
<ellipse cx="362" cy="866" rx="44" ry="8" transform="rotate(-48 362 866)" fill="url(#gc)"/>
<ellipse cx="490" cy="860" rx="48" ry="22" transform="rotate(-45 490 860)" fill="url(#gs)"/>
<ellipse cx="480" cy="842" rx="22" ry="11" fill="url(#gb)"/>
<ellipse cx="490" cy="866" rx="46" ry="9" transform="rotate(-45 490 866)" fill="url(#gc)"/>
<polygon points="328,799 389,799 389,828 368,845 345,862 328,862" fill="none" stroke="#1c2a50" stroke-width="2"/>
<polygon points="453,799 514,799 514,828 496,847 473,862 453,862" fill="none" stroke="#1c2a50" stroke-width="2"/>
<text x="345" y="835" font-size="10.5">2.98%</text>
<text x="472" y="835" font-size="10.5">2.60%</text>

<rect x="326" y="943" width="104" height="105" fill="#fff" stroke="#aaa"/>
<rect x="455" y="943" width="105" height="105" fill="#fff" stroke="#aaa"/>
<ellipse cx="360" cy="1015" rx="30" ry="25" fill="url(#gs)"/>
<ellipse cx="372" cy="998" rx="16" ry="10" transform="rotate(-40 372 998)" fill="url(#gc)"/>
<ellipse cx="490" cy="1015" rx="42" ry="30" fill="url(#gs)"/>
<ellipse cx="492" cy="1010" rx="32" ry="20" fill="url(#gc)"/>
<g stroke="#000" stroke-width="2.5">
<line x1="374" y1="943" x2="374" y2="1048"/><line x1="326" y1="1006" x2="430" y2="1006"/>
<line x1="505" y1="943" x2="505" y2="1048"/><line x1="455" y1="1005" x2="560" y2="1005"/>
</g>
<g font-size="12">
<text x="330" y="980">34.3 %</text><text x="384" y="980">19.2 %</text><text x="330" y="1033">42.8 %</text><text x="386" y="1033">3.74 %</text>
<text x="461" y="980">22.4 %</text><text x="513" y="980">3.57 %</text><text x="463" y="1033">70.3 %</text><text x="515" y="1033">3.72 %</text>
</g>
<g font-size="3.5" fill="#444">
<text x="328" y="949">Q1</text><text x="328" y="953">34.3</text><text x="422" y="949">Q2</text><text x="421" y="953">19.2</text><text x="328" y="1041">Q4</text><text x="328" y="1045">42.8</text><text x="422" y="1041">Q3</text><text x="421" y="1045">3.74</text>
<text x="457" y="949">Q1</text><text x="457" y="953">22.4</text><text x="552" y="949">Q2</text><text x="551" y="953">3.57</text><text x="457" y="1041">Q4</text><text x="457" y="1045">70.3</text><text x="552" y="1041">Q3</text><text x="551" y="1045">3.72</text>
</g>
<g class="tk" text-anchor="end" font-size="9">
<text x="325" y="806">10<tspan dy="-4" font-size="6">5</tspan></text>
<text x="325" y="836">10<tspan dy="-4" font-size="6">4</tspan></text>
<text x="325" y="865">10<tspan dy="-4" font-size="6">3</tspan></text>
<text x="325" y="892">10<tspan dy="-4" font-size="6">2</tspan></text>
<text x="451" y="806">10<tspan dy="-4" font-size="6">5</tspan></text>
<text x="451" y="836">10<tspan dy="-4" font-size="6">4</tspan></text>
<text x="451" y="865">10<tspan dy="-4" font-size="6">3</tspan></text>
<text x="451" y="892">10<tspan dy="-4" font-size="6">2</tspan></text>
<text x="325" y="955">10<tspan dy="-4" font-size="6">5</tspan></text>
<text x="325" y="983">10<tspan dy="-4" font-size="6">4</tspan></text>
<text x="325" y="1010">10<tspan dy="-4" font-size="6">3</tspan></text>
<text x="325" y="1038">10<tspan dy="-4" font-size="6">2</tspan></text>
<text x="452" y="955">10<tspan dy="-4" font-size="6">5</tspan></text>
<text x="452" y="983">10<tspan dy="-4" font-size="6">4</tspan></text>
<text x="452" y="1010">10<tspan dy="-4" font-size="6">3</tspan></text>
<text x="452" y="1038">10<tspan dy="-4" font-size="6">2</tspan></text>
</g>
<g class="tk" text-anchor="middle" font-size="9">
<text x="341" y="914">10<tspan dy="-4" font-size="6">2</tspan></text>
<text x="370" y="914">10<tspan dy="-4" font-size="6">3</tspan></text>
<text x="398" y="914">10<tspan dy="-4" font-size="6">4</tspan></text>
<text x="425" y="914">10<tspan dy="-4" font-size="6">5</tspan></text>
<text x="466" y="914">10<tspan dy="-4" font-size="6">2</tspan></text>
<text x="496" y="914">10<tspan dy="-4" font-size="6">3</tspan></text>
<text x="522" y="914">10<tspan dy="-4" font-size="6">4</tspan></text>
<text x="552" y="914">10<tspan dy="-4" font-size="6">5</tspan></text>
<text x="341" y="1061">10<tspan dy="-4" font-size="6">2</tspan></text>
<text x="370" y="1061">10<tspan dy="-4" font-size="6">3</tspan></text>
<text x="395" y="1061">10<tspan dy="-4" font-size="6">4</tspan></text>
<text x="423" y="1061">10<tspan dy="-4" font-size="6">5</tspan></text>
<text x="464" y="1061">10<tspan dy="-4" font-size="6">2</tspan></text>
<text x="495" y="1061">10<tspan dy="-4" font-size="6">3</tspan></text>
<text x="520" y="1061">10<tspan dy="-4" font-size="6">4</tspan></text>
<text x="550" y="1061">10<tspan dy="-4" font-size="6">5</tspan></text>
</g>
<text transform="translate(302,849) rotate(-90)" text-anchor="middle" font-size="16">CD31</text>
<line x1="305" y1="905" x2="305" y2="806" stroke="#000" stroke-width="2.5"/>
<polygon points="300,808 310,808 305,797" fill="#000"/>
<line x1="327" y1="921" x2="551" y2="921" stroke="#000" stroke-width="2.5"/>
<polygon points="549,916 549,926 561,921" fill="#000"/>
<text x="438" y="937" font-size="16" text-anchor="middle">CD45</text>
<text transform="translate(302,1002) rotate(-90)" text-anchor="middle" font-size="16">CD201</text>
<line x1="305" y1="1048" x2="305" y2="958" stroke="#000" stroke-width="2.5"/>
<polygon points="300,960 310,960 305,948" fill="#000"/>
<line x1="323" y1="1068" x2="551" y2="1068" stroke="#000" stroke-width="2.5"/>
<polygon points="549,1063 549,1073 561,1068" fill="#000"/>
<text x="437" y="1086" font-size="16" text-anchor="middle">CD157</text>

<!-- ===== r ===== -->
<text class="lb" x="585" y="778">r</text>
<rect x="697" y="782" width="118" height="75" rx="4" fill="#fff" stroke="#4aa8c0" stroke-width="2.5"/>
<path d="M732,802 Q740,792 756,792 Q772,792 780,802 Q772,812 756,812 Q740,812 732,802 Z" fill="#72f2f2" stroke="#40b0c0"/>
<ellipse cx="756" cy="802" rx="4" ry="3" fill="#3a9eb0"/>
<text x="756" y="834" font-size="10.5" text-anchor="middle">CD157+ CD201+</text>
<text x="756" y="848" font-size="10.5" text-anchor="middle">VESCs</text>
<polygon points="679,914 679,890 686,897 727,859 737,869 696,907 703,914" fill="#000"/>
<polygon points="838,914 838,890 831,897 790,859 780,869 821,907 814,914" fill="#000"/>
<rect x="605" y="920" width="119" height="77" rx="4" fill="#fff" stroke="#c04cc0" stroke-width="2.5"/>
<path d="M641,942 Q649,932 665,932 Q681,932 689,942 Q681,952 665,952 Q649,952 641,942 Z" fill="#f5a0f2" stroke="#c050c0"/>
<ellipse cx="665" cy="941" rx="4" ry="3" fill="#c040b0"/>
<text x="665" y="973" font-size="10.5" text-anchor="middle">CD157<tspan dy="-4" font-size="7">neg</tspan><tspan dy="4"> CD201+</tspan></text>
<text x="665" y="987" font-size="10.5" text-anchor="middle">ECs</text>
<rect x="786" y="921" width="119" height="77" rx="4" fill="#fff" stroke="#4aaa40" stroke-width="2.5"/>
<path d="M821,942 Q829,932 845,932 Q861,932 869,942 Q861,952 845,952 Q829,952 821,942 Z" fill="#a2e274" stroke="#50a040"/>
<ellipse cx="845" cy="942" rx="4" ry="3" fill="#2e9e2e"/>
<text x="845" y="973" font-size="10.5" text-anchor="middle">CD157<tspan dy="-4" font-size="7">neg</tspan><tspan dy="4"> CD201</tspan><tspan dy="-4" font-size="7">neg</tspan></text>
<text x="845" y="987" font-size="10.5" text-anchor="middle">ECs</text>
</svg>
</body></html>
